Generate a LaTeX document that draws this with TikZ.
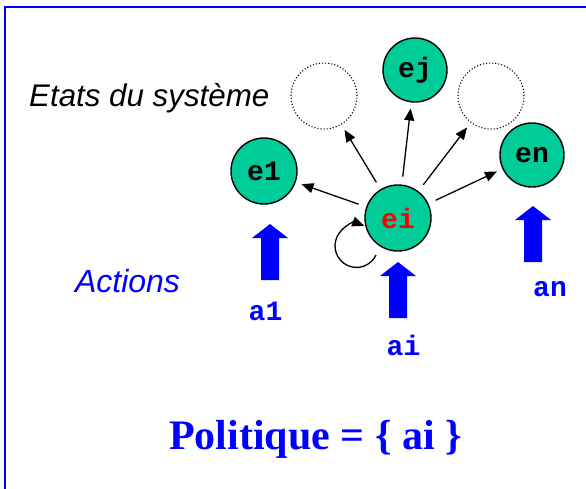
\documentclass[tikz,border=0pt]{standalone}
\usepackage{fontspec}
\setmainfont{Liberation Serif}
\setsansfont{Liberation Sans}
\setmonofont{Liberation Mono}
\usetikzlibrary{arrows.meta}
\definecolor{statefill}{RGB}{0,204,153}
\definecolor{actblue}{RGB}{0,0,255}
\definecolor{curred}{RGB}{255,0,0}
\tikzset{
  actarrow/.pic={\fill[actblue] (0,0) -- (18,14) -- (9,14) -- (9,56) -- (-9,56) -- (-9,14) -- (-18,14) -- cycle;}
}
\begin{document}
\begin{tikzpicture}[x=1pt,y=-1pt,
  state/.style={circle,draw=black,line width=1.4pt,fill=statefill,minimum size=66pt,inner sep=0pt,
    font=\fontsize{28}{28}\selectfont\ttfamily\bfseries},
  ghost/.style={circle,draw=black,dotted,line width=1.1pt,minimum size=66pt,inner sep=0pt},
  tip/.style={-{Triangle[length=12pt,width=10pt]},line width=1.3pt},
  trans/.style={tip,shorten <=8pt,shorten >=6pt},
  actlabel/.style={anchor=base,inner sep=0pt,text=actblue,font=\fontsize{28}{28}\selectfont\ttfamily\bfseries},
  caption/.style={anchor=base,inner sep=0pt,font=\fontsize{31.3}{31.3}\selectfont\sffamily\itshape}
]
\clip (0,0) rectangle (586,488);
\fill[white] (0,0) rectangle (586,488);
% frame
\draw[actblue,line width=2pt] (4.5,6.5) rectangle (640,540);

% states
\node[state] (e1) at (264,171) {e1};
\node[state] (ei) at (398,218) {\textcolor{curred}{ei}};
\node[state,minimum size=64pt] (ej) at (415,70) {ej};
\node[state,minimum size=64pt] (en) at (532,155) {en};
\node[ghost] (g1) at (324,96) {};
\node[ghost] (g2) at (491,96) {};

% transitions
\draw[trans] (ei) -- (e1);
\draw[trans] (ei) -- (g1);
\draw[trans] (ei) -- (ej);
\draw[trans] (ei) -- (g2);
\draw[trans] (ei) -- (en);
\draw[tip]
  ([shift={(-22,37)}]ei.center) arc[start angle=25,end angle=291,radius=21.5];

% actions
\pic at (270,224) {actarrow};
\pic at (398,262) {actarrow};
\pic at (533,206) {actarrow};
\node[actlabel] (a1) at (265.5,320) {a1};
\node[actlabel] (ai) at (403.5,355) {ai};
\node[actlabel] (an) at (550,296) {an};

% captions
\node[caption,anchor=base west] (etats) at (29,106) {Etats du système};
\node[caption,text=actblue,font=\fontsize{32}{32}\selectfont\sffamily\itshape] (actions) at (127.5,292) {Actions};
\node[anchor=base,inner sep=0pt,text=actblue,font=\fontsize{42}{42}\selectfont\rmfamily\bfseries] (pol) at (315.5,449) {Politique = \{ ai \}};
\end{tikzpicture}
\end{document}
